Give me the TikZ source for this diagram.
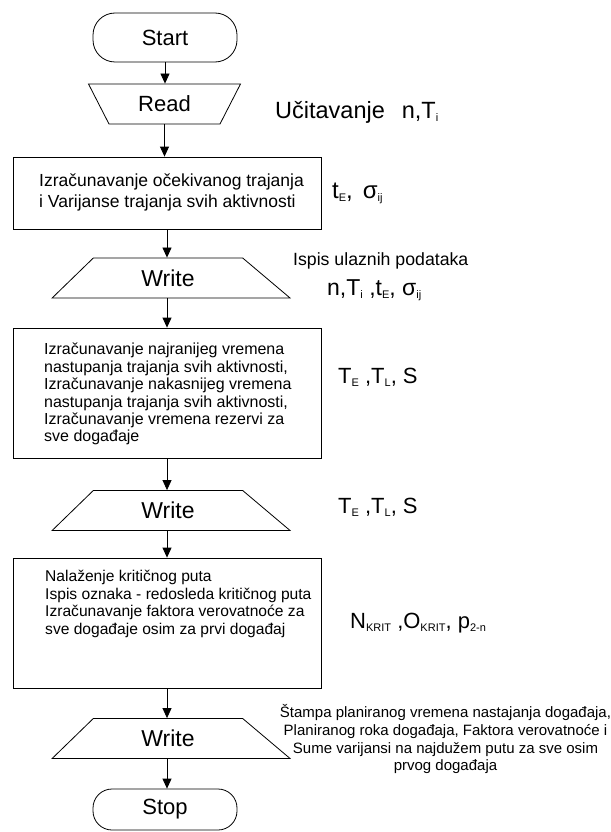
\documentclass[tikz,border=0pt]{standalone}
\usepackage{fontspec}
\setmainfont{Liberation Sans}
\usetikzlibrary{shapes.geometric,arrows.meta}
\newcommand{\lsub}[1]{\raisebox{-3pt}{\fontsize{11}{11}\selectfont #1}}
\tikzset{
  ln/.style={line width=0.8pt, draw=black},
  term/.style={ln, rectangle, minimum width=144pt, inner sep=0pt, font=\fontsize{22}{22}\selectfont},
  readbox/.style={ln, trapezium, shape border rotate=180, trapezium left angle=59, trapezium right angle=59, trapezium stretches=true, minimum width=153pt, minimum height=40pt, inner sep=0pt, font=\fontsize{22}{22}\selectfont},
  writebox/.style={ln, trapezium, trapezium left angle=49, trapezium right angle=45, trapezium stretches=true, minimum width=240pt, minimum height=40pt, inner sep=0pt, font=\fontsize{23}{23}\selectfont},
  procbox/.style={ln, rectangle, minimum width=308pt, inner sep=0pt},
  boxtext/.style={anchor=north west, align=left, inner sep=0pt},
  lbl/.style={anchor=base west, inner sep=0pt},
  arr/.style={line width=0.8pt, -{Triangle[length=10pt,width=9pt]}}
}
\begin{document}
\begin{tikzpicture}[x=1pt,y=-1pt]
\useasboundingbox (0,0) rectangle (610,832);
\node[term, rounded corners=22pt, minimum height=49pt] (start) at (165,37.5) {Start};
\node[readbox] (read) at (164.5,104) {Read};
\node[procbox, minimum height=72pt] (box1) at (167,193) {};
\node[writebox] (write1) at (168,278) {Write};
\node[procbox, minimum height=130pt] (box2) at (167,393) {};
\node[writebox] (write2) at (168,510.5) {Write};
\node[procbox, minimum height=130pt] (box3) at (167,623) {};
\node[writebox] (write3) at (168,738.5) {Write};
\node[term, rounded corners=19pt, minimum height=41pt] (stop) at (165,809.5) {Stop};

\node[boxtext, font=\fontsize{17.5}{21}\selectfont] (t1) at (39,174) {Izračunavanje očekivanog trajanja\\i Varijanse trajanja svih aktivnosti};
\node[boxtext, font=\fontsize{16}{17.4}\selectfont] (t2) at (44,343) {Izračunavanje najranijeg vremena\\nastupanja trajanja svih aktivnosti,\\Izračunavanje nakasnijeg vremena\\nastupanja trajanja svih aktivnosti,\\Izračunavanje vremena rezervi za\\sve događaje};
\node[boxtext, font=\fontsize{15.6}{17.7}\selectfont] (t3) at (45,570) {Nalaženje kritičnog puta\\Ispis oznaka - redosleda kritičnog puta\\Izračunavanje faktora verovatnoće za\\sve događaje osim za prvi događaj};

\draw[arr] (start.south) -- (start.south |- read.north);
\draw[arr] (read.south) -- (read.south |- box1.north);
\draw[arr] (box1.south) -- (box1.south |- write1.north);
\draw[arr] (box1.south |- write1.south) -- (box1.south |- box2.north);
\draw[arr] (box2.south) -- (box2.south |- write2.north);
\draw[arr] (box2.south |- write2.south) -- (box2.south |- box3.north);
\draw[arr] (box3.south) -- (box3.south |- write3.north);
\draw[arr] (box3.south |- write3.south) -- (box3.south |- stop.north);

\node[lbl, font=\fontsize{23.5}{23.5}\selectfont] (l1) at (275,118) {Učitavanje\hspace{17pt}n,T\lsub{i}};
\node[lbl, font=\fontsize{24}{24}\selectfont] (l2) at (332,198) {t\lsub{E},\hspace{10pt}σ\lsub{ij}};
\node[lbl, font=\fontsize{17.7}{17.7}\selectfont] (l3) at (293,265) {Ispis ulaznih podataka};
\node[lbl, font=\fontsize{23}{23}\selectfont] (l4) at (327,295) {n,T\lsub{i} ,t\lsub{E}, σ\lsub{ij}};
\node[lbl, font=\fontsize{22}{22}\selectfont] (l5) at (338,383) {T\lsub{E} ,T\lsub{L}, S};
\node[lbl, font=\fontsize{22}{22}\selectfont] (l6) at (338,513) {T\lsub{E} ,T\lsub{L}, S};
\node[lbl, font=\fontsize{22}{22}\selectfont] (l7) at (350,628) {N\lsub{KRIT} ,O\lsub{KRIT}, p\lsub{2-n}};
\node[anchor=north, align=center, inner sep=0pt, font=\fontsize{15}{17.7}\selectfont] (l8) at (445.5,704.5) {Štampa planiranog vremena nastajanja događaja,\\Planiranog roka događaja, Faktora verovatnoće i\\Sume varijansi na najdužem putu za sve osim\\prvog događaja};
\end{tikzpicture}
\end{document}
